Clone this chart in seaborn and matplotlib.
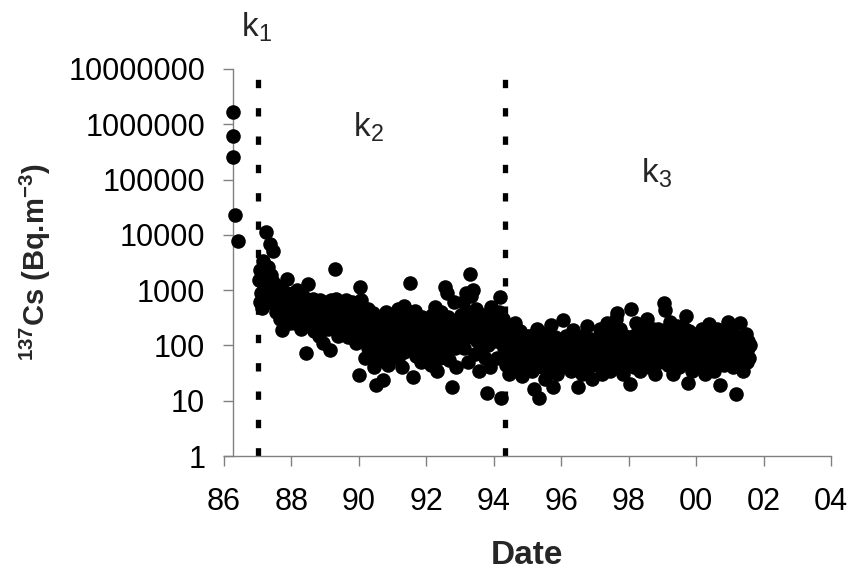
"""
137Cs activity in air after Chernobyl (1986-2001), log scale scatter
with the three periods k1, k2, k3 separated by dashed lines.
"""

import numpy as np
import pandas as pd
import seaborn as sns
import matplotlib
matplotlib.use("Agg")
import matplotlib.pyplot as plt

# first days after the accident (period k1)
k1_dates = [86.27, 86.27, 86.27, 86.32, 86.42]
k1_cs = [1660000, 620000, 260000, 23000, 7700]

# later samples, one list per year, taken evenly through the year
cs_1987 = [1500, 600, 2300, 900, 1800, 470, 3300, 1200, 2000, 700, 11500, 1500, 2600, 900, 650,
           6800, 1900, 1100, 800, 5200, 1400, 550, 1000, 700, 400, 1200, 750, 500, 900, 300,
           600, 1000, 190, 850, 450, 700, 550, 900, 1600, 350, 650, 450, 250, 800, 500]
cs_1988 = [600, 350, 900, 450, 250, 700, 500, 1000, 300, 400, 750, 550, 200, 650, 300,
           800, 450, 350, 600, 72, 500, 250, 1300, 650, 400, 280, 550, 380, 700, 180,
           450, 300, 600, 230, 500, 420, 150, 650, 350, 260, 550, 110, 400, 480, 300]
cs_1989 = [450, 300, 600, 200, 500, 350, 83, 650, 280, 450, 550, 250, 2400, 400, 700,
           300, 150, 500, 380, 250, 600, 320, 180, 450, 550, 220, 400, 650, 280, 350,
           140, 500, 260, 420, 200, 600, 300, 170, 450, 250, 380, 110, 550, 300, 400]
cs_1990 = [29, 1150, 650, 300, 180, 400, 120, 250, 60, 350, 200, 90, 450, 150, 280,
           70, 220, 120, 380, 40, 180, 100, 19, 260, 140, 320, 80, 200, 55, 160,
           270, 110, 24, 180, 130, 400, 80, 220, 45, 150, 300, 100, 200, 70, 160]
cs_1991 = [200, 120, 350, 90, 250, 140, 450, 60, 180, 300, 110, 220, 40, 160, 520,
           75, 230, 130, 300, 180, 95, 260, 150, 1340, 210, 100, 350, 27, 170, 420,
           65, 240, 130, 180, 300, 90, 260, 50, 140, 330, 100, 200, 150, 80, 250]
cs_1992 = [160, 250, 70, 300, 120, 200, 45, 350, 150, 220, 90, 500, 180, 110, 35,
           260, 140, 300, 60, 400, 110, 200, 150, 80, 1150, 250, 120, 900, 330, 180,
           55, 280, 150, 18, 220, 120, 600, 190, 90, 40, 280, 140, 100, 230, 170]
cs_1993 = [200, 350, 120, 600, 250, 90, 300, 900, 140, 220, 50, 400, 180, 2000, 800,
           260, 1000, 160, 300, 70, 450, 200, 120, 350, 35, 220, 150, 90, 300, 180,
           350, 110, 250, 60, 280, 14, 180, 100, 220, 40, 500, 130, 300, 240, 150]
cs_1994 = [300, 180, 120, 250, 60, 200, 400, 760, 150, 11, 250, 110, 300, 90, 150,
           45, 140, 70, 200, 100, 30, 120, 55, 160, 80, 40, 110, 65, 250, 90,
           35, 130, 75, 50, 180, 60, 100, 28, 140, 70, 45, 110, 85, 55, 150]
cs_1995 = [80, 45, 150, 60, 110, 35, 90, 55, 16, 130, 70, 40, 200, 85, 50,
           11, 95, 60, 130, 40, 75, 110, 25, 65, 170, 50, 90, 40, 120, 70,
           230, 55, 85, 18, 100, 45, 140, 60, 30, 95, 75, 120, 45, 65, 100]
cs_1996 = [60, 120, 290, 45, 90, 70, 150, 40, 100, 55, 80, 130, 35, 75, 110,
           190, 50, 90, 65, 140, 45, 100, 18, 70, 120, 55, 85, 30, 150, 65,
           100, 45, 80, 220, 60, 110, 40, 90, 70, 130, 25, 80, 55, 110, 65]
cs_1997 = [70, 110, 45, 130, 60, 90, 200, 50, 85, 30, 120, 70, 160, 45, 95,
           65, 250, 55, 110, 35, 80, 140, 60, 100, 45, 75, 170, 300, 90, 380,
           60, 120, 40, 200, 80, 55, 130, 30, 95, 150, 65, 110, 50, 85, 130]
cs_1998 = [90, 20, 140, 450, 60, 110, 40, 150, 75, 250, 50, 100, 180, 65, 130,
           35, 95, 70, 220, 45, 120, 80, 160, 55, 300, 90, 40, 130, 70, 110,
           160, 55, 200, 85, 30, 120, 65, 105, 75, 200, 50, 140, 90, 60, 120]
cs_1999 = [100, 140, 580, 440, 70, 200, 110, 45, 130, 80, 260, 55, 110, 160, 30,
           170, 65, 120, 95, 220, 60, 40, 120, 75, 150, 90, 180, 50, 130, 90,
           200, 340, 60, 21, 120, 180, 60, 105, 140, 35, 90, 140, 70, 110, 160]
cs_2000 = [60, 150, 90, 120, 40, 100, 70, 200, 50, 130, 100, 30, 85, 160, 55,
           110, 70, 240, 45, 95, 130, 60, 150, 35, 80, 110, 65, 200, 90, 50,
           120, 19, 150, 65, 100, 140, 45, 180, 80, 110, 60, 130, 270, 75, 100]
cs_2001 = [120, 60, 200, 90, 40, 150, 70, 100, 13, 130, 70, 45, 110, 250, 55,
           85, 140, 35, 130, 65, 100, 160, 50, 90, 120, 60, 100]

# (year on the axis, first and last sampled fraction of the year, values)
yearly = [
    (87, 0.02, 1.0, cs_1987), (88, 0.0, 1.0, cs_1988), (89, 0.0, 1.0, cs_1989),
    (90, 0.0, 1.0, cs_1990), (91, 0.0, 1.0, cs_1991), (92, 0.0, 1.0, cs_1992),
    (93, 0.0, 1.0, cs_1993), (94, 0.0, 1.0, cs_1994), (95, 0.0, 1.0, cs_1995),
    (96, 0.0, 1.0, cs_1996), (97, 0.0, 1.0, cs_1997), (98, 0.0, 1.0, cs_1998),
    (99, 0.0, 1.0, cs_1999), (100, 0.0, 1.0, cs_2000), (101, 0.0, 0.6, cs_2001),
]

# period boundaries
breaks = [87.0, 94.34]

x_ticks = [86, 88, 90, 92, 94, 96, 98, 100, 102, 104]
x_labels = ['86', '88', '90', '92', '94', '96', '98', '00', '02', '04']
y_ticks = [1, 10, 100, 1000, 10000, 100000, 1000000, 10000000]
y_labels = ['1', '10', '100', '1000', '10000', '100000', '1000000', '10000000']


def build_frame():
    dates = list(k1_dates)
    values = list(k1_cs)
    for year, start, end, vals in yearly:
        n = len(vals)
        step = (end - start) / n
        dates += [year + start + (i + 0.5) * step for i in range(n)]
        values += vals
    return pd.DataFrame({'date': dates, 'cs': values})


def main():
    sns.set_theme(style='white')
    plt.rcParams['font.family'] = ['Liberation Sans', 'DejaVu Sans']
    plt.rcParams['mathtext.fontset'] = 'custom'
    plt.rcParams['mathtext.rm'] = 'Liberation Sans'
    plt.rcParams['mathtext.it'] = 'Liberation Sans:italic'
    plt.rcParams['mathtext.bf'] = 'Liberation Sans:bold'
    plt.rcParams['lines.scale_dashes'] = False

    df = build_frame()

    fig = plt.figure(figsize=(8.54, 5.81), dpi=100)
    ax = fig.add_axes([224 / 854, 1 - 456 / 581, 607.3 / 854, 387 / 581])

    sns.scatterplot(data=df, x='date', y='cs', color='black', s=110,
                    linewidth=0, ax=ax, legend=False, zorder=3)

    for b in breaks:
        ax.axvline(b, color='black', lw=3.8, dashes=(6, 14.4), zorder=2)

    ax.set_yscale('log')
    ax.set_ylim(1, 10000000)
    ax.set_xlim(86, 104)
    ax.set_yticks(y_ticks)
    ax.set_yticklabels(y_labels)
    ax.yaxis.set_minor_locator(matplotlib.ticker.NullLocator())
    ax.set_xticks(x_ticks)
    ax.set_xticklabels(x_labels)

    # y axis sits at the first sampling date, like the original
    ax.spines['left'].set_position(('data', 86.26))
    for side in ['top', 'right']:
        ax.spines[side].set_visible(False)
    for side in ['left', 'bottom']:
        ax.spines[side].set_color('#808080')
        ax.spines[side].set_linewidth(1.0)

    ax.tick_params(axis='both', direction='out', length=7.2, width=1,
                   color='#808080', labelsize=22, labelcolor='black')
    ax.tick_params(axis='x', pad=15, bottom=True)
    ax.tick_params(axis='y', pad=12.7, left=True)

    ax.set_xlabel('')
    ax.set_ylabel('')
    fig.text(527 / 854, 1 - 556 / 581, 'Date', ha='center', va='center',
             fontsize=24, fontweight='bold')
    fig.text(35 / 854, 1 - 262 / 581, r'$\mathbf{^{137}}$Cs (Bq.m$\mathbf{^{-3}}$)',
             ha='center', va='center', rotation=90, fontsize=21, fontweight='bold')

    # period labels
    ax.text(86.5, 3.8e7, r'k$_1$', fontsize=24, ha='left', va='baseline', clip_on=False)
    ax.text(89.82, 6.1e5, r'k$_2$', fontsize=24, ha='left', va='baseline')
    ax.text(98.36, 9e4, r'k$_3$', fontsize=24, ha='left', va='baseline')

    fig.savefig('out.png', dpi=100)


if __name__ == '__main__':
    main()
